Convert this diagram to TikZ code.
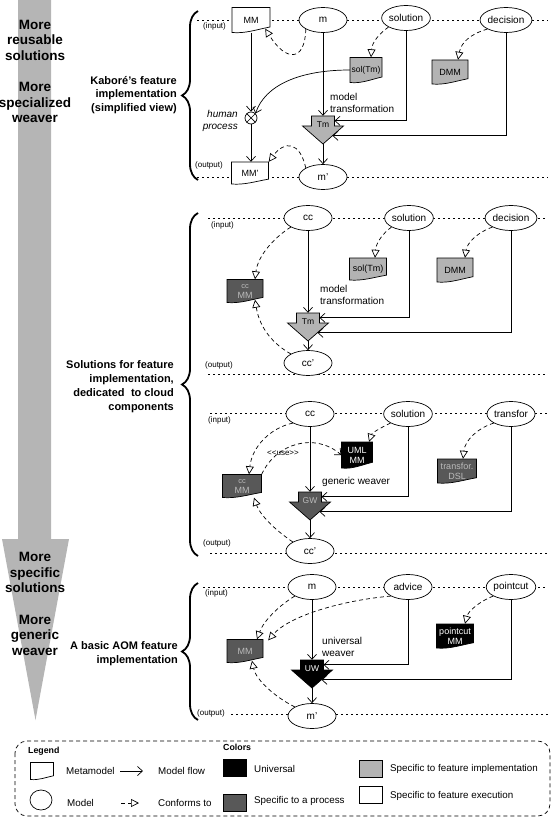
\documentclass[tikz,border=0pt]{standalone}
\usepackage{fontspec}
\setmainfont{Liberation Sans}
\usetikzlibrary{arrows.meta,shapes.geometric,decorations.pathreplacing,calc}
\definecolor{lgray}{HTML}{B3B3B3}
\definecolor{dgray}{HTML}{585858}
\definecolor{agray}{HTML}{B5B5B5}
\definecolor{ltxt}{HTML}{BBBBBB}
\tikzset{
 model/.style={ellipse, draw, fill=white, line width=0.7pt, minimum width=48pt, minimum height=25pt, inner sep=0pt, font=\fontsize{10}{12}\selectfont},
 docline/.style={line width=0.7pt, draw=black},
 docbox/.style={rectangle, inner sep=0pt, align=center, font=\fontsize{9}{10}\selectfont},
 blk/.style={rectangle, inner sep=0pt, minimum width=41pt, minimum height=28pt},
 blktext/.style={font=\fontsize{8.5}{10}\selectfont, inner sep=0pt},
 flow/.style={line width=0.7pt, -{Straight Barb[length=5pt,width=9pt]}},
 conf/.style={line width=0.7pt, dash pattern=on 4pt off 3pt, -{Triangle[open,length=8pt,width=8pt]}},
 ioline/.style={line width=0.9pt, dash pattern=on 1.5pt off 3.5pt},
 iolabel/.style={font=\fontsize{8}{9}\selectfont, inner sep=0pt, anchor=west},
 seclabel/.style={font=\bfseries\fontsize{11}{13.8}\selectfont, align=right, inner sep=0pt, anchor=east},
 biglabel/.style={font=\bfseries\fontsize{13.5}{15.5}\selectfont, align=center, inner sep=0pt},
 bigbrace/.style={decorate, decoration={brace, amplitude=16pt}, line width=1.8pt},
 freetext/.style={font=\fontsize{10}{12}\selectfont, inner sep=0pt, align=left, anchor=west},
 legtext/.style={font=\fontsize{9.8}{11}\selectfont, inner sep=0pt, anchor=west},
 legtitle/.style={font=\bfseries\fontsize{8.8}{10}\selectfont, inner sep=0pt, anchor=west},
 swatch/.style={draw, line width=0.7pt, minimum width=23pt, minimum height=17pt, inner sep=0pt},
}
% name, x, y, w, h, fill, node options, text
\newcommand{\docnode}[8]{%
  \filldraw[docline, fill=#6] ({#2-#4/2},{#3-#5/2}) -- ({#2+#4/2},{#3-#5/2}) -- ({#2+#4/2},{#3+#5/2-0.22*#5}) .. controls ({#2+0.15*#4},{#3+#5/2-0.12*#5}) and ({#2-0.15*#4},{#3+#5/2+0.05*#5}) .. ({#2-#4/2},{#3+#5/2}) -- cycle;
  \node[docbox, minimum width=#4pt, minimum height=#5pt, #7] (#1) at (#2,#3) {#8};
}
% name, x, top, fill, textcolor, text
\newcommand{\blockarrow}[6]{%
  \filldraw[docline, fill=#4] ({#2-11.5},#3) -- ({#2+11.5},#3) -- ({#2+11.5},{#3+10}) -- ({#2+20.5},{#3+10}) -- (#2,{#3+28}) -- ({#2-20.5},{#3+10}) -- ({#2-11.5},{#3+10}) -- cycle;
  \node[blk] (#1) at (#2,{#3+14}) {};
  \node[blktext, text=#5] at (#2,{#3+9}) {#6};
}
\begin{document}
\begin{tikzpicture}[x=1pt,y=-1pt]
\useasboundingbox (0,0) rectangle (558,818);
% big arrow
\fill[agray] (18,0) -- (51,0) -- (51,539) -- (69,539) -- (35.5,720) -- (2,539) -- (18,539) -- cycle;
\node[biglabel] (b1) at (35,40) {More\\reusable\\solutions};
\node[biglabel] (b2) at (35,102.5) {More\\specialized\\weaver};
\node[biglabel] (b3) at (35,572.5) {More\\specific\\solutions};
\node[biglabel] (b4) at (35,635) {More\\generic\\weaver};
% section labels and braces
\node[seclabel] (lab1) at (177,95) {Kaboré's feature\\implementation\\(simplified view)};
\node[seclabel] (lab2) at (174,386.5) {Solutions for feature\\implementation,\\dedicated\hspace{0.3em} to cloud\\components};
\node[seclabel] (lab3) at (178,653.5) {A basic AOM feature\\implementation};
\draw[bigbrace] (198,180) -- (198,11);
\draw[bigbrace] (198,556) -- (198,213);
\draw[bigbrace] (198,720) -- (198,583);

% ===== Section 1
\draw[ioline] (197,20) -- (548,20);
\draw[ioline] (197,177) -- (548,177);
\node[iolabel] (in1) at (203,26) {(input)};
\node[iolabel] (out1) at (195,165) {(output)};
\docnode{MM}{251}{20}{38}{25}{white}{}{MM}
\node[model] (m) at (323,20) {m};
\node[model] (sol) at (406,18) {solution};
\node[model] (dec) at (506,20) {decision};
\docnode{solTm}{366}{70}{32}{25}{lgray}{font=\fontsize{8.5}{10}\selectfont}{sol(Tm)}
\docnode{DMM}{450}{72}{36}{24}{lgray}{}{DMM}
\node[circle, draw, line width=0.7pt, minimum size=12pt, inner sep=0pt] (hp) at (251,118) {};
\draw[line width=0.7pt] (hp.north west) -- (hp.south east) (hp.north east) -- (hp.south west);
\node[freetext, font=\itshape\fontsize{10}{12}\selectfont, align=right, anchor=east] (hpl) at (238,121) {human\\process};
\blockarrow{Tm1}{323}{116}{lgray}{black}{Tm}
\node[freetext] (mt1) at (330,103) {model\\transformation};
\docnode{MMp}{250}{173}{37}{22}{white}{}{MM'}
\node[model] (mp) at (323,177) {m'};
\draw[flow] (hp|-MM.south) -- (hp.north);
\draw[flow] (hp.south) -- (hp|-MMp.north);
\draw[flow] (m.south) -- (Tm1.north);
\draw[flow] (sol.south) |- ($(Tm1.north)+(11.5,5)$);
\draw[flow] (dec.south) |- ($(Tm1.north)+(9.5,20)$);
\draw[flow] (Tm1.south) -- (mp.north);
\draw[flow] (solTm.west) .. controls (300,70) and (265,85) .. (hp.north east);
\draw[conf] (m.south west) .. controls (305,62) and (286,62) .. ($(MM.south east)+(-5,-4)$);
\draw[conf] (sol.south west) .. controls (380,33) and (372,42) .. ($(solTm.north)+(5,0)$);
\draw[conf] (dec.south west) .. controls (470,34) and (461,43) .. ($(DMM.north)+(8,0)$);
\draw[conf] (mp.north west) .. controls (300,142) and (285,140) .. (MMp.north east);

% ===== Section 2
\draw[ioline] (208,218) -- (548,218);
\draw[ioline] (208,374) -- (548,374);
\node[iolabel] (in2) at (211,225) {(input)};
\node[iolabel] (out2) at (205,365) {(output)};
\node[model] (cc2) at (308,218) {cc};
\node[model] (sol2) at (409,218) {solution};
\node[model] (dec2) at (511,218) {decision};
\docnode{solTm2}{368}{269}{37}{22}{lgray}{}{sol(Tm)}
\docnode{DMM2}{455}{270}{36}{24}{lgray}{}{DMM}
\docnode{ccMM2}{245}{291}{36}{23}{dgray}{text=ltxt}{{\fontsize{7.5}{8}\selectfont cc}\\MM}
\blockarrow{Tm2}{308}{313}{lgray}{black}{Tm}
\node[freetext] (mt2) at (320,295) {model\\transformation};
\node[model] (ccp2) at (308,363) {cc'};
\draw[flow] (cc2.south) -- (Tm2.north);
\draw[flow] (sol2.south) |- ($(Tm2.north)+(11.5,5)$);
\draw[flow] (dec2.south) |- ($(Tm2.north)+(9.5,20)$);
\draw[flow] (Tm2.south) -- (ccp2.north);
\draw[conf] (cc2.south west) .. controls (275,237) and (258,255) .. ($(ccMM2.north)+(10,0)$);
\draw[conf] (ccp2.north west) .. controls (275,345) and (260,330) .. ($(ccMM2.south)+(10,-3)$);
\draw[conf] (sol2.south west) .. controls (383,233) and (376,243) .. ($(solTm2.north)+(7,0)$);
\draw[conf] (dec2.south west) .. controls (478,232) and (467,243) .. ($(DMM2.north)+(10,0)$);

% ===== Section 3
\draw[ioline] (210,413) -- (548,413);
\draw[ioline] (210,553) -- (548,553);
\node[iolabel] (in3) at (208,420) {(input)};
\node[iolabel] (out3) at (203,543) {(output)};
\node[model] (cc3) at (310,414) {cc};
\node[model] (sol3) at (408,414) {solution};
\node[model] (tr3) at (511,414) {transfor};
\docnode{UML3}{357}{455}{31}{26}{black}{text=white}{UML\\MM}
\docnode{DSL3}{457}{471}{39}{24}{dgray}{text=ltxt}{transfor.\\DSL}
\docnode{ccMM3}{242}{486}{39}{23}{dgray}{text=ltxt}{{\fontsize{7.5}{8}\selectfont cc}\\MM}
\blockarrow{GW3}{310}{492}{dgray}{ltxt}{GW}
\node[freetext] (gw3l) at (322,482) {generic weaver};
\node[model] (ccp3) at (310,551) {cc'};
\draw[flow] (cc3.south) -- (GW3.north);
\draw[flow] (sol3.south) |- ($(GW3.north)+(11.5,5)$);
\draw[flow] (tr3.south) |- ($(GW3.north)+(9.5,20)$);
\draw[flow] (GW3.south) -- (ccp3.north);
\draw[conf] (cc3.south west) .. controls (270,428) and (252,447) .. ($(ccMM3.north)+(7,0)$);
\draw[conf] (ccp3.north west) .. controls (275,530) and (260,515) .. ($(ccMM3.south)+(12,0)$);
\draw[flow, dash pattern=on 4pt off 3pt] (ccMM3.north east) .. controls (276,443) and (315,432) .. (UML3.west);
\node[font=\fontsize{8}{9}\selectfont, inner sep=0pt] (use) at (283,453) {<{}<use>{}>};
\draw[conf] (sol3.south west) .. controls (380,428) and (372,433) .. ($(UML3.north)+(12,0)$);
\draw[conf] (tr3.south west) .. controls (478,428) and (465,440) .. ($(DSL3.north)+(6,0)$);

% ===== Section 4
\draw[ioline] (203,587) -- (548,587);
\draw[ioline] (231,714) -- (548,714);
\node[iolabel] (in4) at (205,593) {(input)};
\node[iolabel] (out4) at (197,713) {(output)};
\node[model] (m4) at (312,587) {m};
\node[model] (adv4) at (408,587) {advice};
\node[model] (pc4) at (511,587) {pointcut};
\docnode{MM4}{245}{651}{36}{23}{dgray}{text=ltxt}{MM}
\docnode{pcMM4}{455}{636}{37}{24}{black}{text=white}{pointcut\\MM}
\blockarrow{UW4}{312}{660}{black}{white}{UW}
\node[freetext] (uw4l) at (322,647) {universal\\weaver};
\node[model] (mp4) at (312,716) {m'};
\draw[flow] (m4.south) -- (UW4.north);
\draw[flow] (adv4.south) |- ($(UW4.north)+(11.5,5)$);
\draw[flow] (pc4.south) |- ($(UW4.north)+(9.5,20)$);
\draw[flow] (UW4.south) -- (mp4.north);
\draw[conf] (m4.south west) .. controls (280,605) and (264,620) .. ($(MM4.north)+(12,0)$);
\draw[conf] (adv4.south west) .. controls (345,600) and (290,615) .. ($(MM4.north east)+(5,1)$);
\draw[conf] (mp4.north west) .. controls (275,697) and (256,680) .. ($(MM4.south)+(7,-2)$);
\draw[conf] (pc4.south west) .. controls (478,602) and (468,612) .. ($(pcMM4.north)+(10,0)$);

% ===== Legend
\draw[line width=0.7pt, dash pattern=on 4pt off 3pt, rounded corners=12pt] (15,741) rectangle (550,816);
\node[legtitle] (lt) at (28,751) {Legend};
\node[legtitle] (ct) at (223,747) {Colors};
\docnode{legdoc}{42}{771}{23}{17}{white}{}{}
\node[legtext] (lmm) at (66,771) {Metamodel};
\coordinate (fa) at (120,771);
\coordinate (fb) at (143,771);
\draw[flow] (fa) -- (fb);
\node[legtext] (lmf) at (158,771) {Model flow};
\node[ellipse, draw, line width=0.7pt, minimum width=22pt, minimum height=20pt, inner sep=0pt] (legell) at (41,800) {};
\node[legtext] (lmo) at (67,803) {Model};
\coordinate (ca) at (121,803);
\coordinate (cb) at (139,803);
\draw[conf] (ca) -- (cb);
\node[legtext] (lct) at (158,803) {Conforms to};
\node[swatch, fill=black] (s1) at (234.5,768) {};
\node[legtext] (l1) at (254,769) {Universal};
\node[swatch, fill=dgray] (s2) at (234.5,803) {};
\node[legtext] (l2) at (254,801) {Specific to a process};
\node[swatch, fill=lgray] (s3) at (371,768.5) {};
\node[legtext] (l3) at (390,769) {Specific to feature implementation};
\node[swatch, fill=white] (s4) at (371,795) {};
\node[legtext] (l4) at (390,796) {Specific to feature execution};
\end{tikzpicture}
\end{document}
